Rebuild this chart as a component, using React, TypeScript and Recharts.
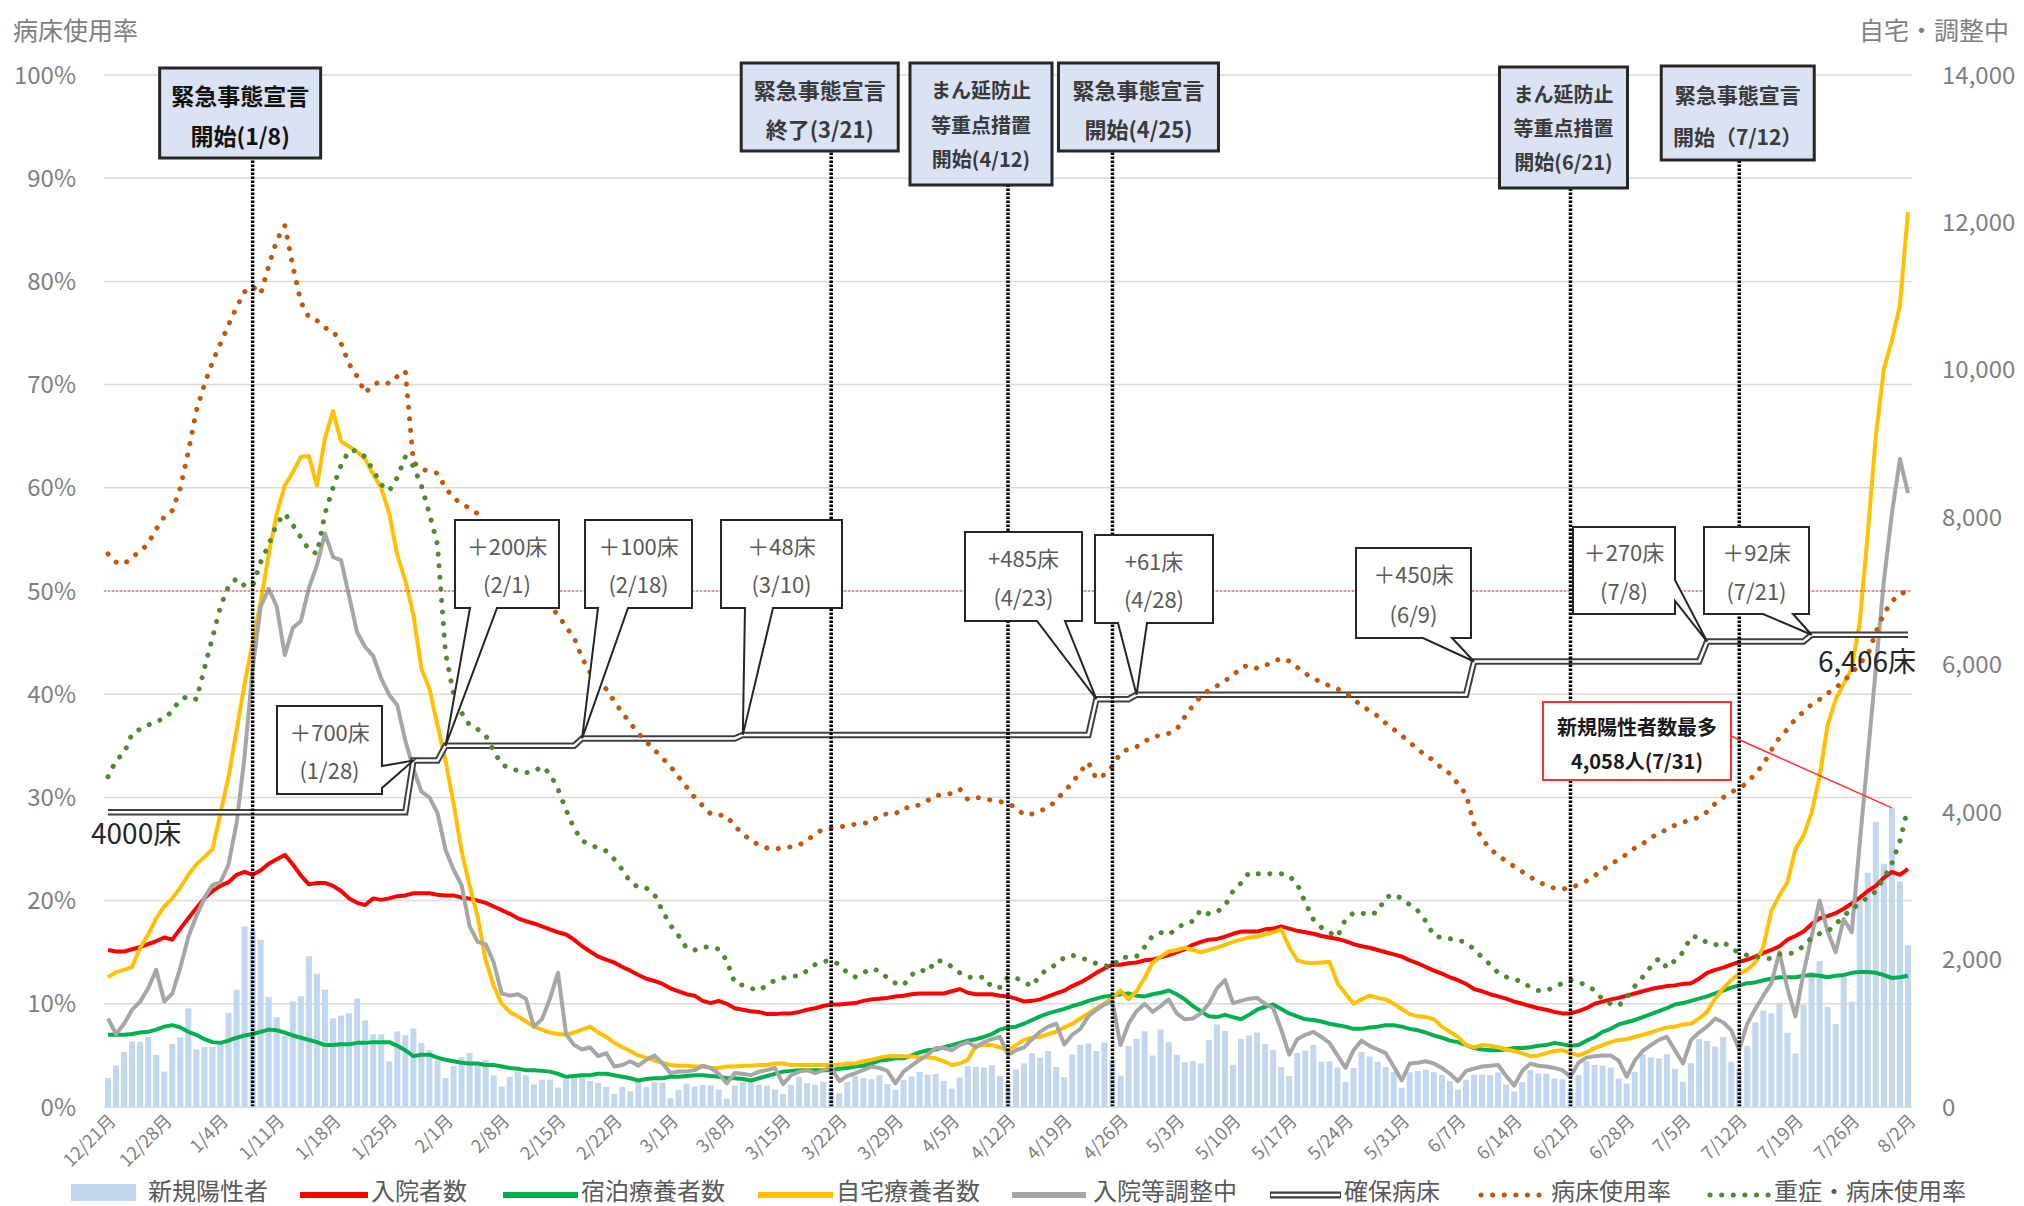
import {
  ComposedChart, Bar, Line, XAxis, YAxis, CartesianGrid, ReferenceLine, ReferenceDot,
} from 'recharts'

const FONT = '"Noto Sans CJK JP", "Noto Sans", sans-serif'
const TICK_GRAY = '#7f7f7f'
const TEXT_GRAY = '#595959'

const BAR_BLUE = '#c2d7ef'
const RED = '#ff0000'
const GREEN = '#00b050'
const YELLOW = '#ffc000'
const GRAY = '#a6a6a6'
const BED_EDGE = '#3f3f3f'
const BROWN = '#c0580f'
const DARK_GREEN = '#4f8a33'

// one category per day, 2020/12/21 .. 2021/8/2
const DATES: string[] = Array.from({ length: 225 }, (_, i) => {
  const d = new Date(2020, 11, 21 + i)
  return `${d.getMonth() + 1}/${d.getDate()}`
})

const X_TICKS = ['12/21', '12/28', '1/4', '1/11', '1/18', '1/25', '2/1', '2/8', '2/15', '2/22',
  '3/1', '3/8', '3/15', '3/22', '3/29', '4/5', '4/12', '4/19', '4/26', '5/3', '5/10', '5/17',
  '5/24', '5/31', '6/7', '6/14', '6/21', '6/28', '7/5', '7/12', '7/19', '7/26', '8/2']
const RATE_TICKS = [0, 10, 20, 30, 40, 50, 60, 70, 80, 90, 100]
const COUNT_TICKS = [0, 2000, 4000, 6000, 8000, 10000, 12000, 14000]

// 新規陽性者 (daily)
const NEW_CASES = [
  392, 563, 748, 888, 884, 949, 708, 481, 856, 944, 1337,
  783, 814, 816, 884, 1278, 1591, 2447, 2392, 2268, 1494, 1219, 970, 1433, 1502, 2044, 1809,
  1592, 1204, 1240, 1274, 1471, 1175, 986, 986, 618, 1026, 973, 1064, 868, 769, 633,
  393, 556, 676, 734, 577, 639, 429, 276, 412, 480, 434, 307, 369, 371, 266, 378, 445, 445,
  353, 327, 272, 178, 275, 213, 340, 270, 337, 329,
  121, 232, 316, 279, 301, 293, 237, 116, 290, 340, 335, 304, 289, 239, 175, 300, 409, 323,
  303, 342, 256, 187, 337, 420, 394, 376, 430, 313, 234, 364, 414,
  475, 440, 446, 355, 249, 399, 555, 545, 537, 570, 421, 306, 510, 591, 729, 667, 759, 543,
  405, 711, 843, 861, 759, 876, 635, 425, 828, 925, 1027, 698,
  1050, 879, 708, 609, 621, 591, 907, 1121, 1032, 573, 925, 969, 1010, 854, 772, 542, 419,
  732, 766, 843, 614, 618, 535, 340, 531, 743, 684, 614, 539, 476, 260,
  471, 487, 508, 472, 436, 351, 235, 369, 440, 439, 435, 467, 304, 209, 337, 501, 452, 453,
  388, 376, 236, 435, 619, 570, 562, 534, 386, 317, 476, 714,
  673, 660, 716, 518, 342, 593, 920, 896, 822, 950, 614, 502, 830, 1149, 1308, 1271, 1410,
  1008, 727, 1387, 1832, 1979, 1359, 1128, 1763, 1429, 2848, 3177, 3865, 3300, 4058,
  3058, 2195,
]

// 入院者数
const HOSPITALIZED = [
  2130, 2110, 2110, 2140, 2170, 2210, 2250, 2300, 2270, 2420,
  2560, 2700, 2830, 2930, 3000, 3050, 3150, 3190, 3150, 3210,
  3300, 3360, 3420, 3290, 3140, 3020, 3040, 3040, 3000, 2930,
  2830, 2770, 2740, 2830, 2810, 2830, 2860, 2870, 2900, 2900,
  2900, 2880, 2870, 2870, 2840, 2830, 2800, 2770, 2720, 2670,
  2620, 2560, 2520, 2490, 2450, 2410, 2370, 2340, 2270, 2180,
  2110, 2040, 2000, 1960, 1900, 1850, 1790, 1740, 1710, 1670,
  1610, 1570, 1530, 1510, 1440, 1410, 1440, 1400, 1340, 1320,
  1300, 1290, 1260, 1260, 1270, 1270, 1290, 1320, 1340, 1370,
  1390, 1390, 1400, 1410, 1440, 1460, 1470, 1480, 1500, 1510,
  1530, 1540, 1540, 1540, 1540, 1570, 1600, 1550, 1530, 1530,
  1530, 1510, 1500, 1470, 1430, 1440, 1460, 1500, 1540, 1580,
  1640, 1690, 1750, 1820, 1880, 1930, 1930, 1950, 1960, 1990,
  2000, 2030, 2060, 2100, 2140, 2200, 2240, 2270, 2280, 2310,
  2350, 2380, 2380, 2380, 2410, 2420, 2450, 2420, 2390, 2370,
  2350, 2320, 2300, 2280, 2250, 2210, 2180, 2160, 2130, 2100,
  2070, 2040, 1990, 1950, 1900, 1850, 1810, 1760, 1720, 1670,
  1600, 1570, 1530, 1500, 1470, 1430, 1400, 1370, 1340, 1320,
  1290, 1270, 1270, 1300, 1340, 1400, 1430, 1460, 1480, 1510,
  1540, 1570, 1600, 1620, 1640, 1650, 1670, 1680, 1740, 1820,
  1860, 1890, 1930, 1970, 2000, 2040, 2090, 2130, 2180, 2270,
  2320, 2380, 2480, 2560, 2590, 2630, 2690, 2760, 2840, 2930,
  3000, 3110, 3190, 3150, 3230,
]

// 宿泊療養者数
const HOTEL_CARE = [
  980, 980, 980, 990, 1010, 1020, 1050, 1090, 1110, 1080,
  1020, 980, 920, 880, 870, 900, 940, 970, 990, 1020,
  1050, 1040, 1010, 970, 940, 910, 880, 840, 840, 850,
  850, 870, 870, 880, 880, 880, 830, 770, 690, 710,
  710, 670, 640, 620, 600, 590, 590, 570, 570, 550,
  530, 520, 500, 500, 490, 480, 450, 410, 420, 430,
  430, 450, 450, 430, 410, 390, 360, 380, 390, 390,
  410, 410, 420, 430, 430, 420, 410, 390, 390, 380,
  360, 390, 420, 450, 480, 490, 500, 500, 500, 500,
  500, 520, 530, 550, 560, 590, 630, 640, 660, 660,
  700, 740, 770, 780, 810, 840, 870, 900, 920, 950,
  990, 1050, 1080, 1090, 1130, 1180, 1230, 1270, 1300, 1330,
  1370, 1400, 1440, 1470, 1500, 1510, 1530, 1540, 1510, 1500,
  1530, 1550, 1580, 1530, 1460, 1370, 1300, 1230, 1220, 1250,
  1220, 1190, 1250, 1320, 1360, 1390, 1330, 1270, 1230, 1190,
  1180, 1160, 1130, 1110, 1090, 1060, 1060, 1080, 1090, 1110,
  1110, 1090, 1060, 1040, 1010, 970, 940, 900, 880, 840,
  800, 780, 770, 770, 780, 800, 800, 810, 830, 840,
  870, 850, 830, 840, 900, 950, 1020, 1060, 1120, 1150,
  1180, 1220, 1260, 1300, 1340, 1390, 1410, 1440, 1470, 1500,
  1540, 1580, 1620, 1650, 1680, 1690, 1720, 1740, 1760, 1760,
  1760, 1780, 1790, 1780, 1760, 1780, 1790, 1820, 1830, 1830,
  1820, 1790, 1750, 1760, 1780,
]

// 自宅療養者数
const HOME_CARE = [
  1760, 1830, 1860, 1900, 2160, 2340, 2560, 2720, 2830, 2980,
  3150, 3290, 3390, 3500, 3990, 4480, 5110, 5740, 6300, 6860,
  7500, 8050, 8430, 8610, 8820, 8830, 8430, 9070, 9440, 9030,
  8960, 8890, 8790, 8580, 8400, 8050, 7490, 7140, 6680, 5950,
  5670, 5180, 4700, 4120, 3470, 3000, 2580, 1990, 1640, 1400,
  1290, 1230, 1160, 1090, 1050, 1010, 990, 980, 1010, 1050,
  1090, 1010, 950, 870, 810, 760, 700, 670, 630, 600,
  570, 560, 560, 550, 550, 530, 530, 550, 550, 560,
  560, 570, 570, 590, 590, 570, 570, 570, 570, 570,
  570, 570, 590, 590, 620, 640, 670, 690, 690, 690,
  690, 670, 670, 660, 620, 570, 590, 640, 830, 840,
  840, 810, 770, 840, 910, 940, 950, 990, 1020, 1080,
  1130, 1200, 1270, 1340, 1400, 1480, 1580, 1460, 1570, 1750,
  1960, 2040, 2110, 2130, 2160, 2130, 2100, 2130, 2160, 2200,
  2240, 2270, 2300, 2310, 2340, 2370, 2410, 2170, 1990, 1960,
  1950, 1960, 1970, 1680, 1540, 1400, 1460, 1510, 1480, 1460,
  1400, 1330, 1260, 1230, 1220, 1190, 1090, 1020, 950, 840,
  810, 840, 830, 810, 780, 760, 730, 690, 700, 730,
  760, 770, 730, 700, 740, 800, 840, 880, 910, 920,
  950, 980, 1010, 1050, 1080, 1090, 1120, 1130, 1200, 1290,
  1470, 1610, 1720, 1810, 1860, 1960, 2170, 2660, 2870, 3050,
  3500, 3680, 3990, 4480, 5180, 5530, 5740, 5950, 6580, 7780,
  9100, 10010, 10400, 10880, 12140,
]

// 入院等調整中
const ADJUSTING = [
  1200, 990, 1130, 1320, 1430, 1610, 1860, 1430, 1540, 1890,
  2310, 2590, 2840, 3010, 3050, 3290, 3850, 4760, 5950, 6790,
  7030, 6790, 6130, 6500, 6590, 7040, 7350, 7780, 7460, 7420,
  6930, 6440, 6240, 6120, 5810, 5590, 5450, 4970, 4590, 4280,
  4200, 3990, 3490, 3220, 3010, 2450, 2240, 2210, 1960, 1540,
  1510, 1530, 1470, 1090, 1190, 1470, 1820, 990, 840, 780,
  810, 690, 730, 550, 570, 620, 560, 640, 700, 590,
  460, 480, 480, 500, 560, 530, 450, 320, 460, 450,
  430, 480, 500, 530, 310, 430, 480, 500, 460, 500,
  530, 350, 420, 460, 500, 550, 530, 490, 320, 480,
  560, 640, 710, 800, 800, 770, 840, 880, 810, 880,
  920, 950, 710, 770, 810, 920, 1020, 1090, 1130, 850,
  980, 1060, 1230, 1320, 1390, 1430, 840, 1130, 1300, 1400,
  1290, 1370, 1460, 1270, 1190, 1200, 1270, 1400, 1610, 1720,
  1410, 1440, 1470, 1480, 1400, 1340, 1050, 710, 920, 980,
  1020, 950, 870, 700, 530, 770, 900, 830, 780, 730,
  550, 360, 590, 600, 620, 590, 530, 450, 350, 490,
  520, 550, 560, 570, 420, 290, 490, 590, 560, 550,
  530, 500, 410, 600, 670, 690, 700, 700, 630, 410,
  630, 760, 840, 910, 950, 770, 590, 910, 1010, 1090,
  1200, 1150, 1040, 780, 1130, 1330, 1510, 1680, 2100, 1610,
  1230, 1820, 2310, 2800, 2380, 2100, 2550, 2370, 3580, 4760,
  5950, 7140, 8050, 8790, 8330,
]

// 確保病床: value from each listed date onward
const BED_STEPS = [
  { date: '12/21', beds: 4000 },
  { date: '1/28', beds: 4700 },
  { date: '2/1', beds: 4900 },
  { date: '2/18', beds: 5000 },
  { date: '3/10', beds: 5048 },
  { date: '4/23', beds: 5533 },
  { date: '4/28', beds: 5594 },
  { date: '6/9', beds: 6044 },
  { date: '7/8', beds: 6314 },
  { date: '7/21', beds: 6406 },
]
const BED_NOTES = ['＋700床', '＋200床', '＋100床', '＋48床', '+485床', '+61床', '＋450床', '＋270床', '＋92床']

// 病床使用率 (%)
const BED_USAGE = [
  53.6, 52.8, 52.6, 53.3, 53.8, 54.6, 56.0, 57.2, 57.8, 60.0,
  63.5, 67.5, 70.0, 72.2, 74.0, 75.8, 77.5, 79.0, 79.5, 78.8,
  81.5, 84.0, 85.4, 81.5, 78.0, 76.5, 76.2, 75.5, 75.2, 74.0,
  72.0, 70.8, 69.2, 70.0, 70.3, 70.1, 70.8, 71.3, 62.5, 61.8,
  61.6, 61.4, 60.0, 59.0, 58.5, 58.0, 57.5, 56.5, 55.5, 54.0,
  53.0, 52.0, 51.0, 50.0, 49.3, 48.5, 47.7, 46.5, 45.5, 43.5,
  42.1, 41.2, 40.5, 39.3, 38.2, 37.2, 36.2, 35.4, 34.6, 33.8,
  33.0, 32.0, 31.0, 30.0, 29.2, 28.4, 28.3, 28.2, 27.2, 26.5,
  25.8, 25.4, 25.1, 25.0, 25.1, 25.2, 25.4, 25.8, 26.5, 26.9,
  27.0, 27.1, 27.3, 27.4, 27.5, 27.6, 28.3, 28.4, 28.4, 29.0,
  29.0, 29.3, 29.7, 30.2, 30.2, 30.4, 30.8, 29.8, 30.0, 29.9,
  29.7, 29.6, 29.4, 29.0, 28.3, 28.4, 28.7, 29.0, 29.7, 30.6,
  31.4, 32.5, 33.4, 31.8, 32.2, 33.0, 34.3, 34.7, 34.9, 35.4,
  35.9, 36.0, 36.2, 36.6, 37.8, 38.9, 39.8, 40.4, 40.8, 41.3,
  41.8, 42.6, 42.8, 42.5, 42.8, 43.1, 43.5, 43.2, 42.6, 42.0,
  41.5, 41.2, 40.8, 40.5, 40.2, 39.5, 38.9, 38.4, 37.9, 37.2,
  36.6, 36.0, 35.3, 34.7, 34.0, 33.6, 32.8, 32.3, 31.3, 30.3,
  27.4, 26.0, 25.0, 24.4, 23.8, 23.3, 22.8, 22.3, 21.8, 21.5,
  21.2, 21.1, 21.3, 21.5, 21.9, 22.4, 23.0, 23.5, 24.0, 24.5,
  25.1, 25.5, 26.1, 26.5, 26.9, 27.3, 27.6, 27.8, 28.1, 28.6,
  29.4, 30.0, 30.5, 30.9, 31.4, 32.3, 33.2, 34.6, 35.8, 36.6,
  37.6, 38.3, 39.0, 39.5, 40.1, 40.6, 41.3, 42.0, 43.0, 43.8,
  46.0, 47.8, 49.0, 49.7, 50.0,
]

// 重症・病床使用率 (%)
const SEVERE_USAGE = [
  32.0, 33.6, 34.3, 36.2, 36.6, 37.0, 37.4, 37.6, 38.4, 39.5,
  39.8, 39.5, 42.5, 45.5, 48.5, 50.5, 51.2, 50.5, 50.5, 52.8,
  54.5, 56.5, 57.5, 56.4, 55.2, 54.0, 53.6, 57.5, 60.0, 62.2,
  63.6, 63.6, 63.0, 61.7, 60.3, 59.7, 61.0, 63.0, 62.1, 60.2,
  57.5, 54.5, 44.0, 40.0, 38.2, 37.0, 36.6, 36.0, 34.5, 33.2,
  32.8, 32.6, 32.4, 32.5, 33.0, 32.3, 30.8, 28.8, 27.0, 25.8,
  25.4, 25.1, 24.8, 24.0, 23.0, 21.8, 21.3, 21.2, 20.6, 19.0,
  17.6, 16.6, 15.4, 15.2, 15.5, 15.5, 15.3, 14.2, 12.0, 11.8,
  11.5, 11.3, 11.8, 12.3, 12.5, 12.7, 12.7, 13.2, 13.8, 14.1,
  14.2, 13.8, 13.0, 12.6, 13.0, 13.4, 13.2, 12.5, 12.0, 11.8,
  12.8, 13.3, 13.1, 14.2, 14.1, 13.6, 13.0, 12.6, 12.5, 12.6,
  11.6, 11.6, 12.6, 12.5, 12.1, 11.7, 12.8, 13.4, 13.8, 14.5,
  14.7, 14.5, 14.2, 13.9, 13.7, 13.6, 14.5, 14.5, 14.6, 15.5,
  16.6, 16.9, 16.7, 17.3, 17.8, 18.0, 19.1, 18.7, 18.9, 19.5,
  20.9, 21.7, 22.7, 22.6, 22.6, 22.6, 22.6, 22.4, 21.6, 19.8,
  18.2, 17.4, 16.9, 16.5, 18.2, 18.8, 18.8, 18.6, 18.9, 20.3,
  20.6, 20.2, 19.6, 19.0, 18.0, 16.6, 16.4, 16.3, 16.2, 15.9,
  15.3, 14.5, 13.8, 13.0, 12.6, 12.4, 12.1, 11.6, 11.3, 11.3,
  11.6, 12.0, 12.3, 12.1, 11.8, 11.3, 10.4, 10.0, 9.8, 10.6,
  11.7, 12.6, 13.6, 14.4, 13.5, 14.2, 15.0, 16.5, 16.5, 15.9,
  15.7, 16.0, 15.4, 14.9, 14.7, 14.6, 14.4, 14.4, 14.8, 14.8,
  15.0, 15.6, 16.4, 16.8, 17.0, 17.7, 18.5, 19.2, 19.7, 20.3,
  20.9, 22.2, 23.6, 25.8, 29.0,
]

const EVENTS = [
  { date: '1/8', lines: ['緊急事態宣言', '開始(1/8)'] },
  { date: '3/21', lines: ['緊急事態宣言', '終了(3/21)'] },
  { date: '4/12', lines: ['まん延防止', '等重点措置', '開始(4/12)'] },
  { date: '4/25', lines: ['緊急事態宣言', '開始(4/25)'] },
  { date: '6/21', lines: ['まん延防止', '等重点措置', '開始(6/21)'] },
  { date: '7/12', lines: ['緊急事態宣言', '開始（7/12）'] },
]

const PEAK_DATE = '7/31'

// ---- layout of the annotation boxes (px) ----
const EVENT_BOXES = [
  { dx: -93, top: 68, w: 161, h: 90, fs: 23, strong: true },
  { dx: -90, top: 63, w: 157, h: 88, fs: 22 },
  { dx: -98, top: 63, w: 142, h: 122, fs: 20 },
  { dx: -54, top: 63, w: 160, h: 88, fs: 22 },
  { dx: -71, top: 67, w: 128, h: 121, fs: 20 },
  { dx: -78, top: 66, w: 153, h: 94, fs: 21 },
]
const NOTE_BOXES = [
  { x: 277, y: 706, w: 105, h: 88, side: 'right', b1: 766, b2: 788 },
  { x: 455, y: 520, w: 104, h: 88, side: 'bottom', b1: 470, b2: 497 },
  { x: 585, y: 520, w: 107, h: 88, side: 'bottom', b1: 598, b2: 628 },
  { x: 721, y: 520, w: 121, h: 88, side: 'bottom', b1: 745, b2: 773 },
  { x: 965, y: 532, w: 117, h: 89, side: 'bottom', b1: 1037, b2: 1065 },
  { x: 1095, y: 535, w: 118, h: 88, side: 'bottom', b1: 1118, b2: 1147 },
  { x: 1356, y: 548, w: 115, h: 90, side: 'bottom', b1: 1423, b2: 1452 },
  { x: 1573, y: 527, w: 102, h: 87, side: 'right', b1: 580, b2: 601 },
  { x: 1704, y: 527, w: 105, h: 87, side: 'bottom', b1: 1763, b2: 1793 },
]
const LEGEND_POS = [
  { x: 71, w: 65, tx: 148 }, { x: 300, w: 68, tx: 371 }, { x: 503, w: 75, tx: 581 },
  { x: 758, w: 75, tx: 836 }, { x: 1012, w: 74, tx: 1093 }, { x: 1270, w: 71, tx: 1344 },
  { x: 1477, w: 71, tx: 1551 }, { x: 1706, w: 65, tx: 1774 },
]

function bedsOn(i: number): number {
  let v = BED_STEPS[0].beds
  for (const s of BED_STEPS) if (DATES.indexOf(s.date) <= i) v = s.beds
  return v
}

const rows = DATES.map((date, i) => ({
  date,
  cases: NEW_CASES[i],
  hosp: HOSPITALIZED[i],
  hotel: HOTEL_CARE[i],
  home: HOME_CARE[i],
  adjusting: ADJUSTING[i],
  beds: bedsOn(i),
  usage: BED_USAGE[i],
  severe: SEVERE_USAGE[i],
}))

const DOTTED = { strokeWidth: 5, strokeDasharray: '0.1 11.5', strokeLinecap: 'round' as const }

function EventBox({ cx, lines, lay }: { cx: number, lines: string[], lay: typeof EVENT_BOXES[number] }) {
  const left = cx + lay.dx
  const fr = lines.length === 3 ? [0.22, 0.5, 0.78] : [0.3, 0.74]
  return (
    <g>
      <rect x={left} y={lay.top} width={lay.w} height={lay.h} fill="#dae3f3" stroke="#262626" strokeWidth={3} />
      {lines.map((t, k) => (
        <text key={k} x={left + lay.w / 2} y={lay.top + lay.h * fr[k]} textAnchor="middle"
          dominantBaseline="central" fontSize={lay.fs} fontWeight={700} fontFamily={FONT}
          fill={lay.strong ? '#111' : '#3a3a3a'}>{t}</text>
      ))}
    </g>
  )
}

function BedCallout({ cx, cy, title, sub, box }: { cx: number, cy: number, title: string, sub: string, box: typeof NOTE_BOXES[number] }) {
  const { x, y, w, h, side, b1, b2 } = box
  const r = x + w
  const b = y + h
  const d = side === 'bottom'
    ? `M${x},${y}H${r}V${b}H${b2}L${cx},${cy}L${b1},${b}H${x}Z`
    : `M${x},${y}H${r}V${b1}L${cx},${cy}L${r},${b2}V${b}H${x}Z`
  return (
    <g>
      <path d={d} fill="#fff" stroke="#262626" strokeWidth={2} />
      <text x={x + w / 2} y={y + h * 0.28} textAnchor="middle" dominantBaseline="central"
        fontSize={22} fontFamily={FONT} fill={TEXT_GRAY}>{title}</text>
      <text x={x + w / 2} y={y + h * 0.72} textAnchor="middle" dominantBaseline="central"
        fontSize={22} fontFamily={FONT} fill={TEXT_GRAY}>{sub}</text>
    </g>
  )
}

function PeakNote({ cx, cy }: { cx: number, cy: number }) {
  return (
    <g>
      <line x1={1731} y1={736} x2={cx} y2={cy} stroke="#ff3030" strokeWidth={1.5} />
      <rect x={1543} y={702} width={188} height={78} fill="#fff" stroke="#ff3030" strokeWidth={2} />
      <text x={1637} y={726} textAnchor="middle" dominantBaseline="central" fontSize={20}
        fontWeight={700} fontFamily={FONT} fill="#1a1a1a">新規陽性者数最多</text>
      <text x={1637} y={760} textAnchor="middle" dominantBaseline="central" fontSize={20}
        fontWeight={700} fontFamily={FONT} fill="#1a1a1a">4,058人(7/31)</text>
    </g>
  )
}

const LEGEND_ITEMS = [
  { label: '新規陽性者', kind: 'bar', color: BAR_BLUE },
  { label: '入院者数', kind: 'line', color: RED },
  { label: '宿泊療養者数', kind: 'line', color: GREEN },
  { label: '自宅療養者数', kind: 'line', color: YELLOW },
  { label: '入院等調整中', kind: 'line', color: GRAY },
  { label: '確保病床', kind: 'double', color: BED_EDGE },
  { label: '病床使用率', kind: 'dots', color: BROWN },
  { label: '重症・病床使用率', kind: 'dots', color: DARK_GREEN },
]

function Swatch({ kind, color, w }: { kind: string, color: string, w: number }) {
  return (
    <svg width={w} height={30} style={{ display: 'block' }}>
      {kind === 'bar' && <rect x={0} y={8} width={w} height={17} fill={color} />}
      {kind === 'line' && <line x1={0} x2={w} y1={19} y2={19} stroke={color} strokeWidth={6} />}
      {kind === 'double' && (
        <g>
          <line x1={0} x2={w} y1={19} y2={19} stroke={color} strokeWidth={7} />
          <line x1={1} x2={w - 1} y1={19} y2={19} stroke="#fff" strokeWidth={2.5} />
        </g>
      )}
      {kind === 'dots' && (
        <line x1={4} x2={w} y1={19} y2={19} stroke={color} {...DOTTED} />
      )}
    </svg>
  )
}

function ChartLegend() {
  return (
    <>
      {LEGEND_ITEMS.map((it, i) => (
        <div key={it.label}>
          <div style={{ position: 'absolute', left: LEGEND_POS[i].x, top: 1176 }}>
            <Swatch kind={it.kind} color={it.color} w={LEGEND_POS[i].w} />
          </div>
          <div style={{
            position: 'absolute', left: LEGEND_POS[i].tx, top: 1174, fontSize: 24,
            lineHeight: '32px', color: TEXT_GRAY, whiteSpace: 'nowrap',
          }}>{it.label}</div>
        </div>
      ))}
    </>
  )
}

const tickStyle = { fontSize: 24, fill: TICK_GRAY, fontFamily: FONT }

export default function App() {
  const peakIdx = DATES.indexOf(PEAK_DATE)
  return (
    <div style={{
      position: 'absolute', left: 0, top: 0, width: 2024, height: 1206,
      background: '#fff', fontFamily: FONT, overflow: 'hidden',
    }}>
      <ComposedChart width={2024} height={1206} data={rows}
        margin={{ top: 75, right: 0, bottom: 0, left: 0 }}>
        <CartesianGrid vertical={false} yAxisId="left" stroke="#d9d9d9" strokeWidth={1.5} />
        <XAxis dataKey="date" ticks={X_TICKS} interval={0} height={99} tickSize={0} tickMargin={6}
          angle={-45} textAnchor="end" tickFormatter={(v) => `${v}月`}
          tick={{ fontSize: 18, fill: TICK_GRAY, fontFamily: FONT }}
          axisLine={{ stroke: '#d9d9d9', strokeWidth: 1.5 }} />
        <YAxis yAxisId="left" domain={[0, 100]} ticks={RATE_TICKS} width={104} tickSize={0}
          tickMargin={28} axisLine={false} tickLine={false} tick={tickStyle}
          tickFormatter={(v) => `${v}%`} />
        <YAxis yAxisId="right" orientation="right" domain={[0, 14000]} ticks={COUNT_TICKS}
          width={112} tickSize={0} tickMargin={30} axisLine={false} tickLine={false}
          tick={tickStyle} tickFormatter={(v) => Number(v).toLocaleString('en-US')} />

        <Bar dataKey="cases" yAxisId="right" fill={BAR_BLUE} barSize={6} isAnimationActive={false} />
        <Line dataKey="hosp" yAxisId="right" type="linear" stroke={RED} strokeWidth={4}
          dot={false} activeDot={false} strokeLinejoin="round" isAnimationActive={false} />
        <Line dataKey="hotel" yAxisId="right" type="linear" stroke={GREEN} strokeWidth={4}
          dot={false} activeDot={false} strokeLinejoin="round" isAnimationActive={false} />
        <Line dataKey="home" yAxisId="right" type="linear" stroke={YELLOW} strokeWidth={4}
          dot={false} activeDot={false} strokeLinejoin="round" isAnimationActive={false} />
        <Line dataKey="adjusting" yAxisId="right" type="linear" stroke={GRAY} strokeWidth={4}
          dot={false} activeDot={false} strokeLinejoin="round" isAnimationActive={false} />
        <Line dataKey="beds" yAxisId="right" type="linear" stroke={BED_EDGE} strokeWidth={6.5}
          dot={false} activeDot={false} isAnimationActive={false} legendType="none" />
        <Line dataKey="beds" yAxisId="right" type="linear" stroke="#fff" strokeWidth={2.5}
          dot={false} activeDot={false} isAnimationActive={false} legendType="none" />
        <Line dataKey="usage" yAxisId="left" type="linear" stroke={BROWN} {...DOTTED}
          dot={false} activeDot={false} isAnimationActive={false} />
        <Line dataKey="severe" yAxisId="left" type="linear" stroke={DARK_GREEN} {...DOTTED}
          dot={false} activeDot={false} isAnimationActive={false} />

        <ReferenceLine y={50} yAxisId="left" stroke="#ff0000" strokeOpacity={0.75}
          strokeWidth={1} strokeDasharray="2 2" />
        {EVENTS.map((ev) => (
          <ReferenceLine key={`l${ev.date}`} x={ev.date} yAxisId="left" stroke="#000"
            strokeWidth={3.5} strokeDasharray="2.5 1.5" />
        ))}
        {EVENTS.map((ev, i) => (
          <ReferenceDot key={`b${ev.date}`} x={ev.date} y={100} yAxisId="left" r={0}
            ifOverflow="visible"
            shape={(p: any) => <EventBox cx={p.cx} lines={ev.lines} lay={EVENT_BOXES[i]} />} />
        ))}
        {BED_STEPS.slice(1).map((s, i) => (
          <ReferenceDot key={`n${s.date}`} x={s.date} y={s.beds} yAxisId="right" r={0}
            ifOverflow="visible"
            shape={(p: any) => (
              <BedCallout cx={p.cx} cy={p.cy} title={BED_NOTES[i]} sub={`(${s.date})`} box={NOTE_BOXES[i]} />
            )} />
        ))}
        <ReferenceDot x={DATES[0]} y={BED_STEPS[0].beds} yAxisId="right" r={0} ifOverflow="visible"
          shape={(p: any) => (
            <text x={p.cx - 17} y={p.cy + 20} dominantBaseline="central" fontSize={28}
              fontFamily={FONT} fill="#262626">{`${BED_STEPS[0].beds}床`}</text>
          )} />
        <ReferenceDot x={DATES[DATES.length - 1]} y={BED_STEPS[BED_STEPS.length - 1].beds}
          yAxisId="right" r={0} ifOverflow="visible"
          shape={(p: any) => (
            <text x={p.cx + 8} y={p.cy + 25} textAnchor="end" dominantBaseline="central"
              fontSize={28} fontFamily={FONT} fill="#262626">
              {`${BED_STEPS[BED_STEPS.length - 1].beds.toLocaleString('en-US')}床`}
            </text>
          )} />
        <ReferenceDot x={PEAK_DATE} y={NEW_CASES[peakIdx]} yAxisId="right" r={0} ifOverflow="visible"
          shape={(p: any) => <PeakNote cx={p.cx} cy={p.cy} />} />
      </ComposedChart>

      <div style={{ position: 'absolute', left: 13, top: 11, fontSize: 25, color: TICK_GRAY, lineHeight: '36px' }}>
        病床使用率
      </div>
      <div style={{ position: 'absolute', right: 15, top: 11, fontSize: 25, color: TICK_GRAY, lineHeight: '36px' }}>
        自宅・調整中
      </div>
      <ChartLegend />
    </div>
  )
}
